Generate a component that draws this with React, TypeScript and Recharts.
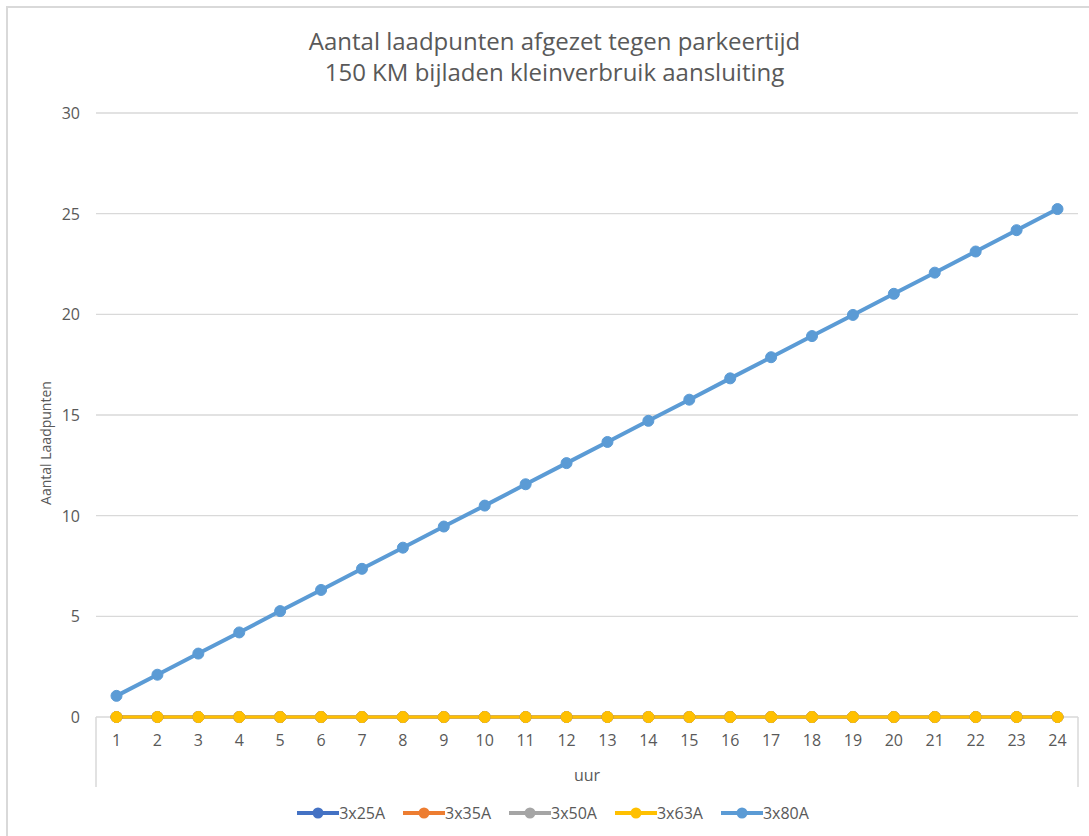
import React from "react";
import {
  LineChart,
  Line,
  XAxis,
  YAxis,
  CartesianGrid,
  Label,
} from "recharts";

const hours = ["1", "2", "3", "4", "5", "6", "7", "8", "9", "10", "11", "12", "13", "14", "15", "16", "17", "18", "19", "20", "21", "22", "23", "24"];

const a25 = [0, 0, 0, 0, 0, 0, 0, 0, 0, 0, 0, 0, 0, 0, 0, 0, 0, 0, 0, 0, 0, 0, 0, 0];
const a35 = [0, 0, 0, 0, 0, 0, 0, 0, 0, 0, 0, 0, 0, 0, 0, 0, 0, 0, 0, 0, 0, 0, 0, 0];
const a50 = [0, 0, 0, 0, 0, 0, 0, 0, 0, 0, 0, 0, 0, 0, 0, 0, 0, 0, 0, 0, 0, 0, 0, 0];
const a63 = [0, 0, 0, 0, 0, 0, 0, 0, 0, 0, 0, 0, 0, 0, 0, 0, 0, 0, 0, 0, 0, 0, 0, 0];
const a80 = [1.05, 2.1, 3.15, 4.2, 5.26, 6.31, 7.36, 8.41, 9.46, 10.5, 11.56, 12.61, 13.66, 14.71, 15.76, 16.82, 17.87, 18.92, 19.97, 21.02, 22.07, 23.12, 24.18, 25.23];

const yTicks = [0, 5, 10, 15, 20, 25, 30];

const SERIES = [
  { key: "3x25A", values: a25, color: "#4472C4", width: 3 },
  { key: "3x35A", values: a35, color: "#ED7D31", width: 3 },
  { key: "3x50A", values: a50, color: "#A5A5A5", width: 3 },
  { key: "3x63A", values: a63, color: "#FFC000", width: 3 },
  { key: "3x80A", values: a80, color: "#5B9BD5", width: 4 },
];

const data = hours.map((h, i) => {
  const row: Record<string, string | number> = { hour: h };
  SERIES.forEach((s) => {
    row[s.key] = s.values[i];
  });
  return row;
});

const FONT = "'Open Sans', 'Liberation Sans', sans-serif";
const TEXT = "#595959";
const GRID = "#d9d9d9";

// Excel-style frame under the category axis, plus the "uur" title
function XAxisFrame(props: any) {
  const vb = props.viewBox || {};
  const left = vb.x;
  const right = vb.x + vb.width;
  const top = vb.y;
  return (
    <g>
      <line x1={left} y1={top} x2={left} y2={top + 70} stroke={GRID} strokeWidth={1.5} />
      <line x1={right} y1={top} x2={right} y2={top + 70} stroke={GRID} strokeWidth={1.5} />
      <text
        x={vb.x + vb.width / 2}
        y={top + 64}
        textAnchor="middle"
        fill={TEXT}
        fontSize={16}
        fontFamily={FONT}
      >
        uur
      </text>
    </g>
  );
}

function YTitle(props: any) {
  const vb = props.viewBox || {};
  const cx = vb.x + 45;
  const cy = vb.y + vb.height / 2 + 28;
  return (
    <text
      x={cx}
      y={cy}
      transform={`rotate(-90, ${cx}, ${cy})`}
      textAnchor="middle"
      dominantBaseline="central"
      fill={TEXT}
      fontSize={14}
      fontFamily={FONT}
    >
      Aantal Laadpunten
    </text>
  );
}

function YTick(props: any) {
  const { x, y, payload } = props;
  return (
    <text
      x={x}
      y={y}
      textAnchor="end"
      dominantBaseline="central"
      fill={TEXT}
      fontSize={16}
      fontFamily={FONT}
    >
      {payload.value}
    </text>
  );
}

export default function App() {
  return (
    <div
      style={{
        position: "absolute",
        left: 0,
        top: 0,
        width: 1089,
        height: 836,
        overflow: "hidden",
        background: "#fff",
        fontFamily: FONT,
      }}
    >
      <div
        style={{
          position: "absolute",
          left: 6,
          top: 6,
          width: 1200,
          height: 1000,
          borderLeft: `2px solid ${GRID}`,
          borderTop: `2px solid ${GRID}`,
        }}
      />
      <div
        style={{
          position: "absolute",
          left: 20,
          width: 1069,
          top: 25,
          textAlign: "center",
          fontSize: 24,
          lineHeight: "31px",
          color: TEXT,
        }}
      >
        <div>Aantal laadpunten afgezet tegen parkeertijd</div>
        <div>150 KM bijladen kleinverbruik aansluiting</div>
      </div>
      <div style={{ position: "absolute", left: 0, top: 0 }}>
        <LineChart
          width={1089}
          height={836}
          data={data}
          margin={{ top: 113, right: 11, bottom: 0, left: 0 }}
        >
          <CartesianGrid horizontal vertical={false} stroke={GRID} strokeWidth={1.3} />
          <XAxis
            dataKey="hour"
            height={119}
            padding={{ left: 20.5, right: 20.5 }}
            tickLine={false}
            tickSize={0}
            tickMargin={18}
            axisLine={false}
            tick={{ fill: TEXT, fontSize: 16, fontFamily: FONT }}
            interval={0}
          >
            <Label content={<XAxisFrame />} />
          </XAxis>
          <YAxis
            width={96}
            domain={[0, 30]}
            ticks={yTicks}
            tickLine={false}
            tickSize={0}
            tickMargin={16}
            axisLine={false}
            tick={<YTick />}
          >
            <Label content={<YTitle />} />
          </YAxis>
          {SERIES.map((s) => (
            <Line
              key={s.key}
              type="linear"
              dataKey={s.key}
              stroke={s.color}
              strokeWidth={s.width}
              dot={{ r: 5.5, fill: s.color, stroke: s.color, strokeWidth: 1 }}
              activeDot={false}
              isAnimationActive={false}
            />
          ))}
        </LineChart>
      </div>
      <div
        style={{
          position: "absolute",
          left: 0,
          width: 1106,
          top: 802,
          display: "flex",
          justifyContent: "center",
          gap: 18,
          fontSize: 16,
          color: TEXT,
          lineHeight: "22px",
        }}
      >
        {SERIES.map((s) => (
          <div key={s.key} style={{ display: "flex", alignItems: "center" }}>
            <svg width={42} height={22}>
              <line x1={0} y1={11} x2={42} y2={11} stroke={s.color} strokeWidth={4} />
              <circle cx={21} cy={11} r={5.5} fill={s.color} />
            </svg>
            <span>{s.key}</span>
          </div>
        ))}
      </div>
    </div>
  );
}
